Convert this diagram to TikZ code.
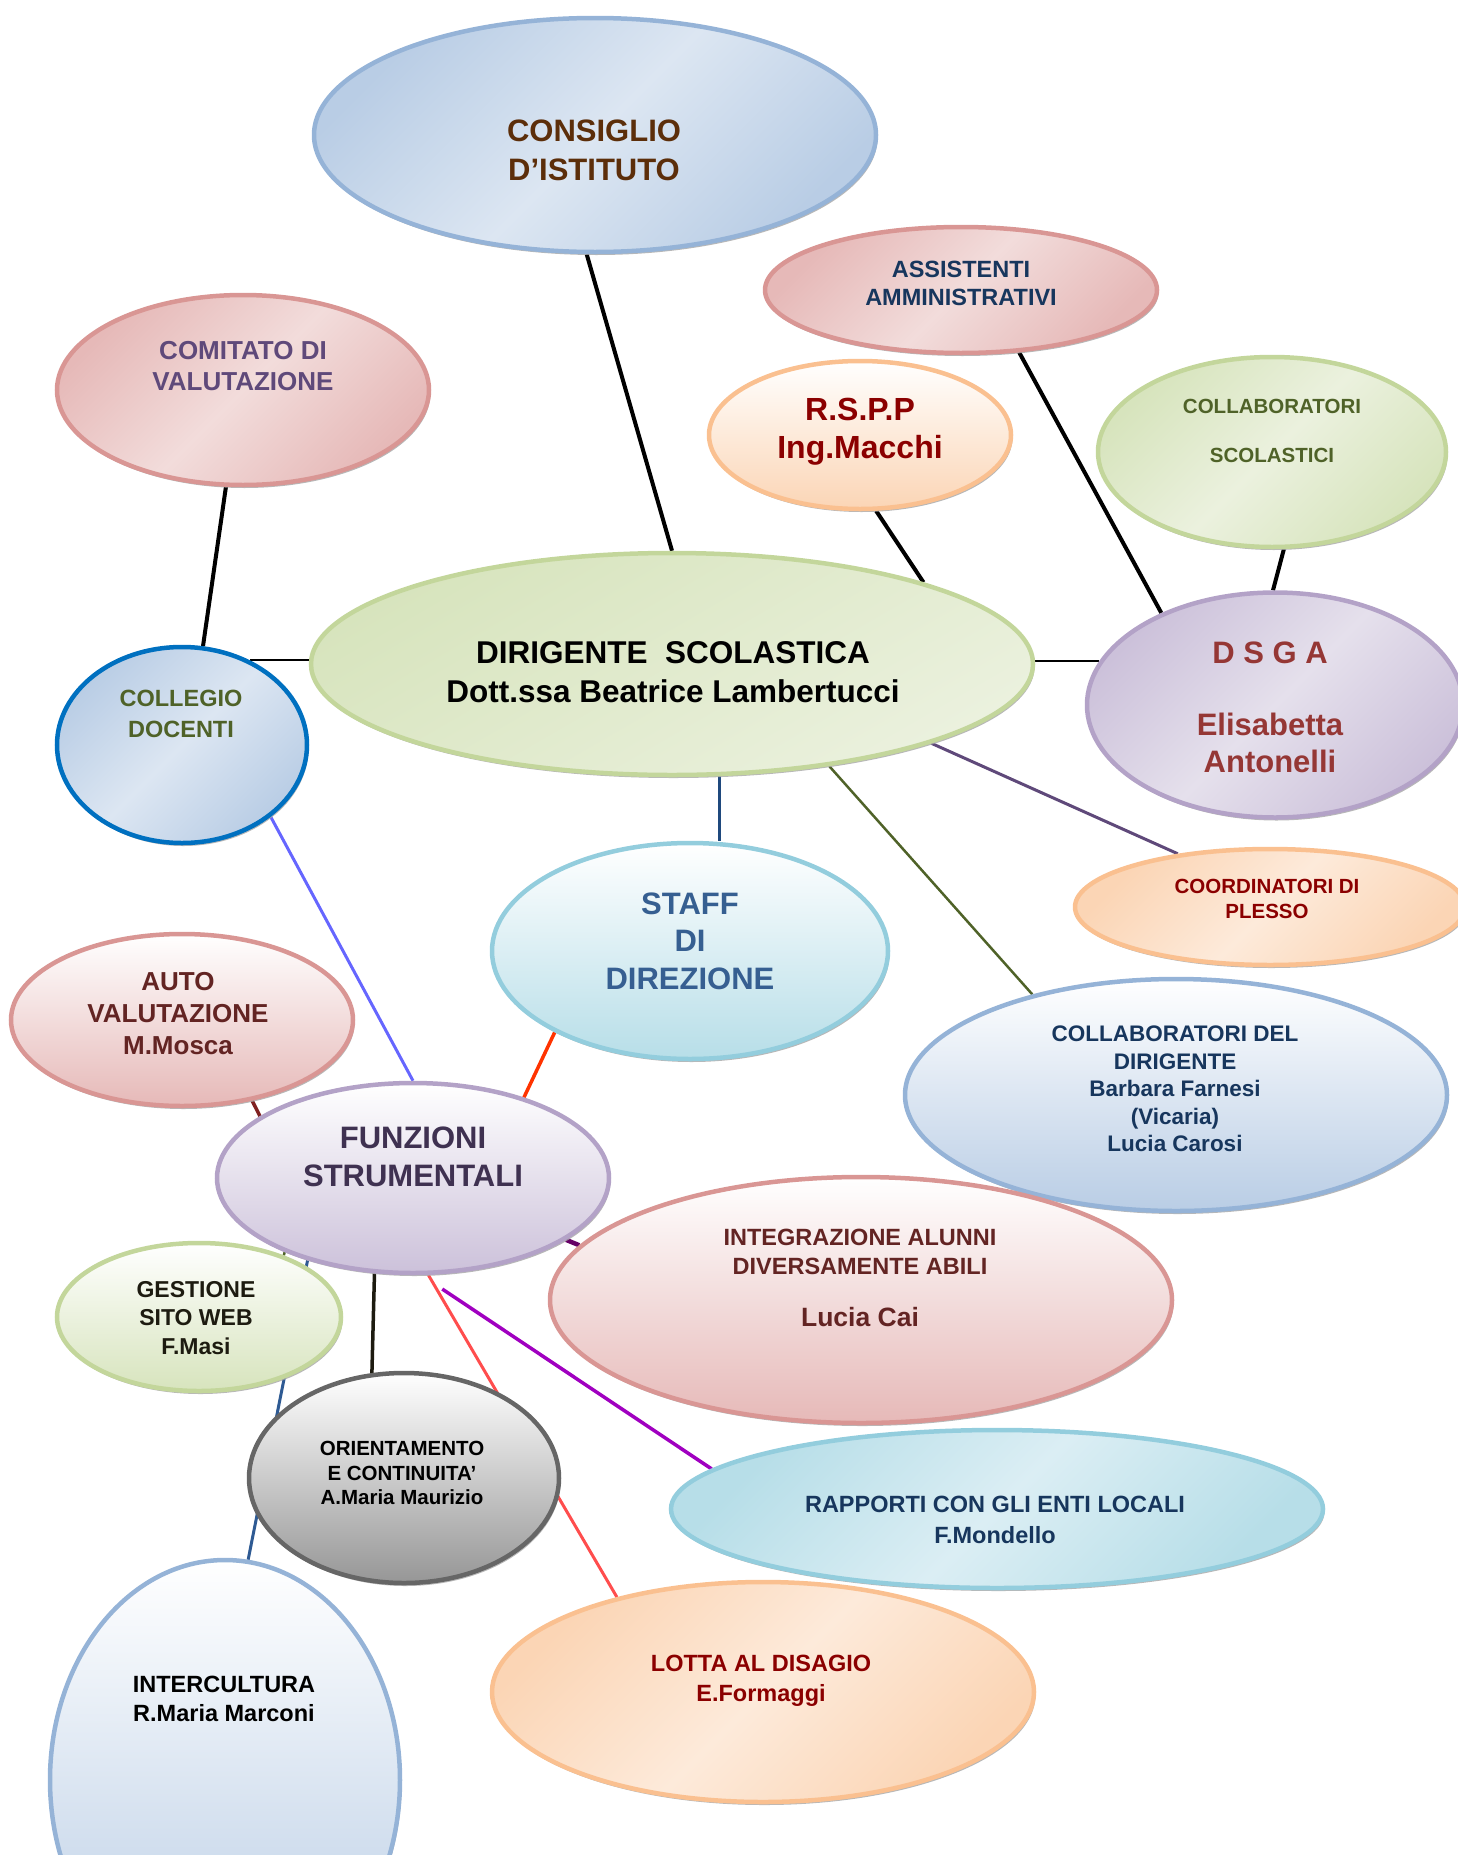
\documentclass[tikz,border=0pt]{standalone}
\usepackage{fontspec}
\setmainfont{Liberation Sans}
\usetikzlibrary{shapes.geometric,shadows}
\pgfdeclarelayer{bg}
\pgfsetlayers{bg,main}
\definecolor{blueB}{HTML}{95B3D7}\definecolor{blueL}{HTML}{DCE6F2}\definecolor{blueD}{HTML}{B9CDE5}
\definecolor{redB}{HTML}{D99694}\definecolor{redL}{HTML}{F2DCDB}\definecolor{redD}{HTML}{E6B9B8}
\definecolor{greenB}{HTML}{C3D69B}\definecolor{greenL}{HTML}{EBF1DE}\definecolor{greenD}{HTML}{D7E4BD}
\definecolor{orangeB}{HTML}{FAC090}\definecolor{orangeL}{HTML}{FDEADA}\definecolor{orangeD}{HTML}{FBD5B5}
\definecolor{purpleB}{HTML}{B3A2C7}\definecolor{purpleL}{HTML}{E5E0EC}\definecolor{purpleD}{HTML}{CCC1DA}
\definecolor{aquaB}{HTML}{93CDDD}\definecolor{aquaL}{HTML}{DBEEF4}\definecolor{aquaD}{HTML}{B7DEE8}
\definecolor{grayB}{HTML}{666666}\definecolor{grayD}{HTML}{969696}
\definecolor{collegB}{HTML}{0070C0}
\definecolor{consT}{HTML}{5C2E0A}\definecolor{comitT}{HTML}{5F497A}\definecolor{navyT}{HTML}{17365D}
\definecolor{dredT}{HTML}{8B0000}\definecolor{oliveT}{HTML}{4F6228}\definecolor{dsgaT}{HTML}{953735}
\definecolor{staffT}{HTML}{365F91}\definecolor{brownT}{HTML}{632423}\definecolor{funzT}{HTML}{3F3151}
\definecolor{gestT}{HTML}{1D1B10}
\definecolor{lnPurple}{HTML}{5F497A}\definecolor{lnBlue}{HTML}{1F497D}\definecolor{lnOlive}{HTML}{4F6228}
\definecolor{lnLilac}{HTML}{6666FF}\definecolor{lnOrange}{HTML}{FF3300}\definecolor{lnDred}{HTML}{7F2020}
\definecolor{lnPlum}{HTML}{660066}\definecolor{lnSteel}{HTML}{2E5A93}\definecolor{lnRed}{HTML}{FF4D4D}
\definecolor{lnViolet}{HTML}{A000C0}
\newcommand{\myfs}[2]{\fontsize{#1}{#2}\selectfont\bfseries}
\tikzset{
  bub/.style={ellipse, inner sep=0pt, line width=4.5pt,
    drop shadow={shadow xshift=1.5pt, shadow yshift=-3pt, fill=black!35, opacity=0.8}},
  bluediag/.style={draw=blueB, top color=blueD, bottom color=blueD, middle color=blueL, shading angle=45},
  bluevert/.style={draw=blueB, top color=white, bottom color=blueD},
  reddiag/.style={draw=redB, top color=redD, bottom color=redD, middle color=redL, shading angle=45},
  redvert/.style={draw=redB, top color=white, bottom color=redD},
  greendiag/.style={draw=greenB, top color=greenD, bottom color=greenD, middle color=greenL, shading angle=45},
  greenvert/.style={draw=greenB, top color=white, bottom color=greenD},
  orangediag/.style={draw=orangeB, top color=orangeD, bottom color=orangeD, middle color=orangeL, shading angle=45},
  orangevert/.style={draw=orangeB, top color=white, bottom color=orangeD},
  purplediag/.style={draw=purpleB, top color=purpleD, bottom color=purpleD, middle color=purpleL, shading angle=45},
  purplevert/.style={draw=purpleB, top color=white, bottom color=purpleD},
  aquadiag/.style={draw=aquaB, top color=aquaD, bottom color=aquaD, middle color=aquaL, shading angle=45},
  aquavert/.style={draw=aquaB, top color=white, bottom color=aquaD},
  grayvert/.style={draw=grayB, top color=white, bottom color=grayD},
  txt/.style={align=center, inner sep=0pt},
  con/.style={line width=4pt},
  thinline/.style={line width=2pt}
}
\begin{document}
\begin{tikzpicture}[x=1pt,y=-1pt]
\useasboundingbox (0,0) rectangle (1458,1855);
% ellipses
\node[bub, bluediag, minimum width=562pt, minimum height=234pt] (cons) at (595,135) {};
\node[bub, reddiag, minimum width=392pt, minimum height=126pt] (assist) at (961,290) {};
\node[bub, reddiag, minimum width=372pt, minimum height=190pt] (comit) at (243,390) {};
\node[bub, orangevert, minimum width=302pt, minimum height=148pt] (rspp) at (860,435) {};
\node[bub, greendiag, minimum width=348pt, minimum height=190pt] (collsc) at (1272,452) {};
\node[bub, draw=greenB, top color=greenD, bottom color=greenL, shading angle=30, minimum width=722pt, minimum height=222pt] (dir) at (672,664) {};
\node[bub, bluediag, draw=collegB, minimum width=250pt, minimum height=196pt] (colleg) at (182,745) {};
\node[bub, purplediag, minimum width=376pt, minimum height=225pt] (dsga) at (1275,705) {};
\node[bub, orangediag, minimum width=390pt, minimum height=116pt] (coord) at (1270,907) {};
\node[bub, aquavert, minimum width=396pt, minimum height=216pt] (staff) at (690,951) {};
\node[bub, bluevert, minimum width=542pt, minimum height=232pt] (collab) at (1176,1095) {};
\node[bub, redvert, minimum width=342pt, minimum height=172pt] (auto) at (182,1020) {};
\node[bub, purplevert, minimum width=392pt, minimum height=190pt] (funz) at (413,1178) {};
\node[bub, redvert, minimum width=622pt, minimum height=246pt] (integ) at (861,1300) {};
\node[bub, greenvert, minimum width=284pt, minimum height=148pt] (gest) at (199,1317) {};
\node[bub, grayvert, minimum width=310pt, minimum height=210pt] (orient) at (404,1478) {};
\node[bub, aquadiag, minimum width=652pt, minimum height=158pt] (rapp) at (997,1509) {};
\node[bub, orangediag, minimum width=542pt, minimum height=220pt] (lotta) at (763,1692) {};
\node[bub, bluevert, minimum width=350pt, minimum height=440pt] (interc) at (225,1780) {};
% texts
\node[txt, text=consT, font=\myfs{31}{39}] (cons-t) at (594,150) {CONSIGLIO\\D’ISTITUTO};
\node[txt, text=comitT, font=\myfs{26}{31}] (comit-t) at (243,366) {COMITATO DI\\VALUTAZIONE};
\node[txt, text=navyT, font=\myfs{23.5}{28}] (assist-t) at (961,283) {ASSISTENTI\\AMMINISTRATIVI};
\node[txt, text=dredT, font=\myfs{32}{38}] (rspp-t) at (860,432) {R.S.P.P\\Ing.Macchi};
\node[txt, text=oliveT, font=\myfs{20.5}{49}] (collsc-t) at (1272,431) {COLLABORATORI\\SCOLASTICI};
\node[txt, text=black, font=\myfs{31.5}{39}] (dir-t) at (673,672) {DIRIGENTE\ \ SCOLASTICA\\Dott.ssa Beatrice Lambertucci};
\node[txt, text=oliveT, font=\myfs{23.5}{31}] (colleg-t) at (181,714) {COLLEGIO\\DOCENTI};
\node[txt, text=dsgaT, font=\myfs{31}{37}] (dsga-t) at (1270,707) {D S G A\\[35pt]Elisabetta\\Antonelli};
\node[txt, text=dredT, font=\myfs{20.5}{25}] (coord-t) at (1267,899) {COORDINATORI DI\\PLESSO};
\node[txt, text=staffT, font=\myfs{31}{37.5}] (staff-t) at (690,941) {STAFF\\DI\\DIREZIONE};
\node[txt, text=navyT, font=\myfs{22.5}{27.5}] (collab-t) at (1175,1089) {COLLABORATORI DEL\\DIRIGENTE\\Barbara Farnesi\\(Vicaria)\\Lucia Carosi};
\node[txt, text=brownT, font=\myfs{26}{32}] (auto-t) at (178,1014) {AUTO\\VALUTAZIONE\\M.Mosca};
\node[txt, text=funzT, font=\myfs{31}{38}] (funz-t) at (413,1157) {FUNZIONI\\STRUMENTALI};
\node[txt, text=brownT, font=\myfs{23.5}{28.5}] (integ-t) at (860,1278) {INTEGRAZIONE ALUNNI\\DIVERSAMENTE ABILI\\[24pt]{\fontsize{26.5}{30}\selectfont Lucia Cai}};
\node[txt, text=gestT, font=\myfs{23}{28.5}] (gest-t) at (196,1318) {GESTIONE\\SITO WEB\\F.Masi};
\node[txt, text=black, font=\myfs{20.5}{24.5}] (orient-t) at (402,1473) {ORIENTAMENTO\\E CONTINUITA’\\A.Maria Maurizio};
\node[txt, text=navyT, font=\myfs{23.5}{31}] (rapp-t) at (995,1520) {RAPPORTI CON GLI ENTI LOCALI\\F.Mondello};
\node[txt, text=dredT, font=\myfs{23.5}{29.5}] (lotta-t) at (761,1681) {LOTTA AL DISAGIO\\E.Formaggi};
\node[txt, text=black, font=\myfs{23.5}{28.5}] (interc-t) at (224,1699) {INTERCULTURA\\R.Maria Marconi};
% connectors
\begin{pgfonlayer}{bg}
\draw[con] (cons.266.5) -- (dir.90.5);
\draw[con] (comit.260.7) -- (colleg.78.2);
\draw[thinline] (colleg.51) -- (colleg.51 -| dir.west);
\draw[con] (assist.313) -- (dsga.141.3);
\draw[con] (rspp.282.2) -- (dir.18);
\draw[con] (collsc.277.1) -- (dsga.91);
\draw[thinline] (dsga.166) -- (dsga.166 -| dir.east);
\draw[con, lnPurple, line width=3pt] (dir.343.5) -- (coord.150.4);
\draw[con, lnBlue, line width=3pt] (dir.293) -- (dir.293 |- staff.north);
\draw[con, lnOlive, line width=2.5pt] (dir.327.6) -- (collab.145.9);
\draw[con, lnLilac, line width=3pt] (colleg.321.6) -- (funz.90);
\draw[con, lnOrange, line width=3.5pt] (staff.211.5) -- (funz.36.6);
\draw[con, lnDred, line width=3.5pt] (auto.311) -- (funz.158.6);
\draw[con, lnPlum, line width=4.5pt] (funz.338.3) -- (integ.169);
\draw[con, lnOlive, line width=2.5pt] (funz.210.8) -- (gest.36.3);
\draw[con, lnSteel, line width=3pt] (funz.218.5) -- (interc.84.5);
\draw[con, gestT, line width=3.5pt] (funz.248.7) -- (orient.107.8);
\draw[con, lnRed, line width=3pt] (funz.279.4) -- (lotta.147.8);
\draw[con, lnViolet, line width=3.5pt, shorten <=25pt] (funz.275.4) -- (rapp.172.3);
\end{pgfonlayer}
\end{tikzpicture}
\end{document}
